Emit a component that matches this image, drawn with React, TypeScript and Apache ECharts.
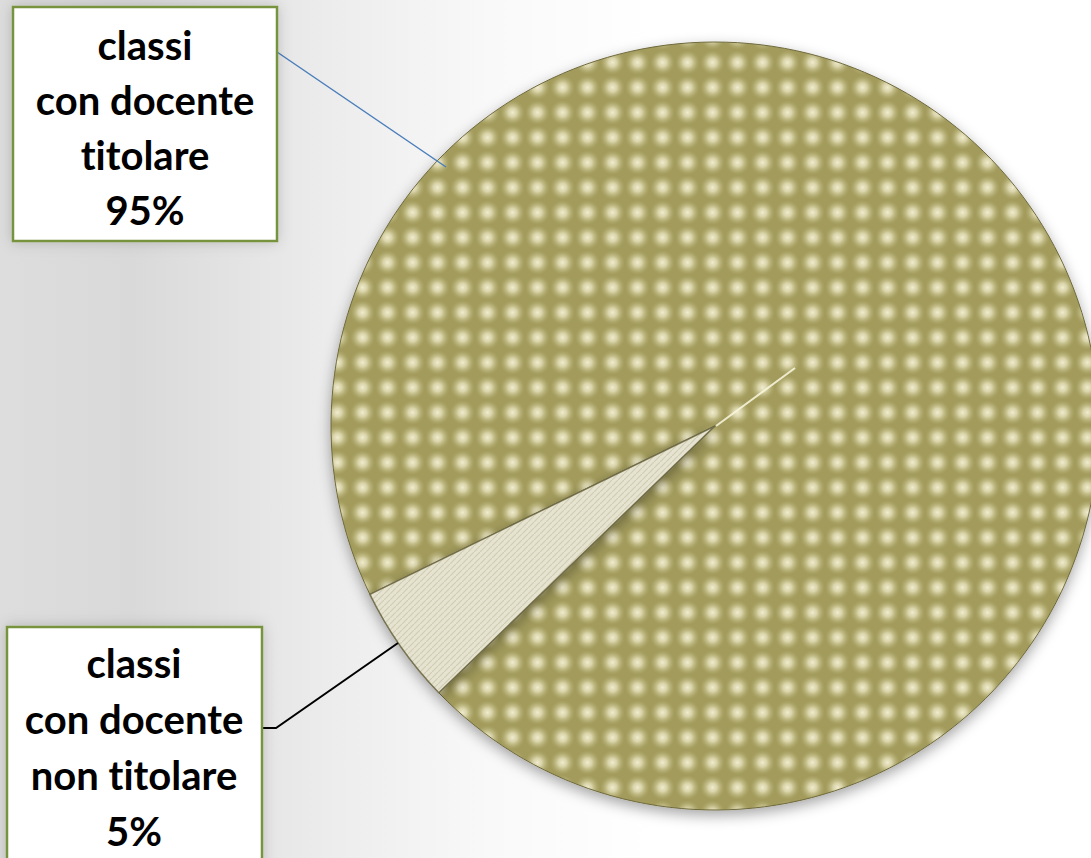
import React, { useEffect, useRef } from "react";
import * as echarts from "echarts";

// ---- data ----
const categories = ["classi\ncon docente\ntitolare", "classi\ncon docente\nnon titolare"];
const values = [95, 5];
const lineColors = ["#4a7ebb", "#000000"];

function makeDotPattern(): HTMLCanvasElement {
  const size = 75;
  const n = 3;
  const step = size / n;
  const c = document.createElement("canvas");
  c.width = size;
  c.height = size;
  const ctx = c.getContext("2d")!;
  ctx.fillStyle = "#a29b5c";
  ctx.fillRect(0, 0, size, size);
  for (let i = 0; i < n; i++) {
    for (let j = 0; j < n; j++) {
      const cx = step / 2 + i * step;
      const cy = step / 2 + j * step;
      const r = step * 0.5;
      const g = ctx.createRadialGradient(cx, cy, 0, cx, cy, r);
      g.addColorStop(0, "rgba(240,236,205,1)");
      g.addColorStop(0.35, "rgba(226,221,182,0.85)");
      g.addColorStop(0.75, "rgba(200,193,140,0.35)");
      g.addColorStop(1, "rgba(180,173,115,0)");
      ctx.fillStyle = g;
      ctx.fillRect(cx - step / 2, cy - step / 2, step, step);
    }
  }
  return c;
}

function makeStripePattern(): HTMLCanvasElement {
  const c = document.createElement("canvas");
  c.width = 6;
  c.height = 6;
  const ctx = c.getContext("2d")!;
  ctx.fillStyle = "#e6e4d0";
  ctx.fillRect(0, 0, 6, 6);
  ctx.strokeStyle = "rgba(165,160,125,0.35)";
  ctx.lineWidth = 1.2;
  ctx.beginPath();
  ctx.moveTo(6, 0);
  ctx.lineTo(0, 6);
  ctx.stroke();
  return c;
}

export default function App() {
  const ref = useRef<HTMLDivElement>(null);

  useEffect(() => {
    if (!ref.current) return;
    const chart = echarts.init(ref.current, undefined, { renderer: "svg" });
    const total = values.reduce((a, b) => a + b, 0);
    const pct = values.map((v) => Math.round((v / total) * 100) + "%");
    const patterns = [makeDotPattern(), makeStripePattern()];

    const font = { fontFamily: "Lato, 'Open Sans', sans-serif", fontWeight: "bold" as const, fontSize: 40 };

    chart.setOption({
      animation: false,
      backgroundColor: "#ffffff",
      graphic: [
        {
          type: "rect",
          z: -10,
          shape: { x: 0, y: 0, width: 1091, height: 858 },
          style: {
            fill: new echarts.graphic.LinearGradient(0, 0, 1, 0, [
              { offset: 0, color: "#dddddd" },
              { offset: 0.12, color: "#d9d9d9" },
              { offset: 0.3, color: "#ececec" },
              { offset: 0.45, color: "#f9f9f9" },
              { offset: 0.6, color: "#ffffff" },
              { offset: 1, color: "#ffffff" },
            ]),
          },
          silent: true,
        },
        // bevel highlight on slice edge
        {
          type: "line",
          z: 100,
          shape: { x1: 716, y1: 426, x2: 795, y2: 368 },
          style: { stroke: "rgba(250,248,225,0.85)", lineWidth: 2 },
          silent: true,
        },
        // label 1
        {
          type: "rect",
          z: 50,
          shape: { x: 13, y: 7, width: 264, height: 234 },
          style: {
            fill: "#ffffff",
            stroke: "#77933c",
            lineWidth: 2.5,
            shadowBlur: 14,
            shadowColor: "rgba(0,0,0,0.18)",
          },
        },
        {
          type: "text",
          z: 51,
          x: 145,
          y: 17,
          style: {
            text: categories[0] + "\n" + pct[0],
            ...font,
            fill: "#000",
            align: "center",
            verticalAlign: "top",
            lineHeight: 55,
          },
        },
        {
          type: "polyline",
          z: 49,
          shape: { points: [[277, 52], [446, 167]] },
          style: { stroke: lineColors[0], lineWidth: 1.5, fill: "none" },
        },
        // label 2
        {
          type: "rect",
          z: 50,
          shape: { x: 7, y: 627, width: 255, height: 260 },
          style: {
            fill: "#ffffff",
            stroke: "#77933c",
            lineWidth: 2.5,
            shadowBlur: 14,
            shadowColor: "rgba(0,0,0,0.18)",
          },
        },
        {
          type: "text",
          z: 51,
          x: 134,
          y: 635,
          style: {
            text: categories[1] + "\n" + pct[1],
            ...font,
            fill: "#000",
            align: "center",
            verticalAlign: "top",
            lineHeight: 56,
          },
        },
        {
          type: "polyline",
          z: 49,
          shape: { points: [[262, 728], [276, 728], [398, 643]] },
          style: { stroke: lineColors[1], lineWidth: 2, fill: "none" },
        },
      ],
      series: [
        {
          type: "pie",
          center: [715, 426],
          radius: 384,
          startAngle: 206,
          clockwise: true,
          silent: true,
          label: { show: false },
          labelLine: { show: false },
          itemStyle: {
            shadowBlur: 14,
            shadowColor: "rgba(0,0,0,0.35)",
            shadowOffsetY: 5,
          },
          data: values.map((v, i) => ({
            value: v,
            name: categories[i].replace(/\n/g, " "),
            itemStyle: {
              color: { image: patterns[i], repeat: "repeat" },
              borderColor: i === 0 ? "#6f6a3e" : "rgba(105,100,65,0.85)",
              borderWidth: i === 0 ? 1 : 1.5,
            },
          })),
        },
      ],
    });

    return () => chart.dispose();
  }, []);

  return (
    <>
      <style>{"svg text { font-variant-ligatures: none; font-feature-settings: 'liga' 0, 'clig' 0; }"}</style>
      <div
        ref={ref}
        style={{ position: "fixed", left: 0, top: 0, width: 1091, height: 858 }}
      />
    </>
  );
}
